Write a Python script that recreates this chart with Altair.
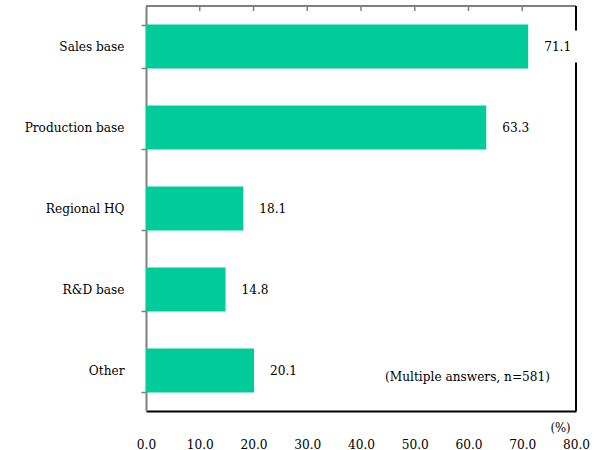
import altair as alt
import pandas as pd

# Survey shares (%) by function of the overseas base
categories = ["Sales base", "Production base", "Regional HQ", "R&D base", "Other"]
shares = [71.1, 63.3, 18.1, 14.8, 20.1]
x_ticks = [0, 10, 20, 30, 40, 50, 60, 70, 80]
note = "(Multiple answers, n=581)"
unit = "(%)"

df = pd.DataFrame({"category": categories, "share": shares})
inner_ticks = pd.DataFrame({"t": x_ticks[1:-1]})

FONT = "'DejaVu Serif Condensed', 'DejaVu Serif', serif"
FS = 13.5
W, H = 430, 405
GREEN = "#00CC99"
GRAY = "#808080"

xscale = alt.Scale(domain=[0, 80])
yscale = alt.Scale(paddingInner=0.457, paddingOuter=0.2285)

base = alt.Chart(df)

bars = base.mark_bar(color=GREEN).encode(
    x=alt.X(
        "share:Q",
        scale=xscale,
        title=unit,
        axis=alt.Axis(
            values=x_ticks, format=".1f", domainColor="black", domainWidth=2,
            ticks=False, grid=False, labelPadding=26, labelFont=FONT,
            labelFontSize=FS, labelColor="black", labelFlush=False,
            titleFont=FONT, titleFontSize=13, titleFontWeight="normal",
            titleColor="black", titleX=414, titleY=16,
            titleBaseline="middle", titleAlign="center",
        ),
    ),
    y=alt.Y(
        "category:N",
        sort=categories,
        scale=yscale,
        axis=alt.Axis(
            title=None, domainColor=GRAY, domainWidth=2, tickColor=GRAY,
            tickWidth=1.5, tickSize=5, tickBand="extent", labelPadding=17,
            labelFont=FONT, labelFontSize=FS, labelColor="black", grid=False,
        ),
    ),
)

# Frame: gray top edge with inward ticks, black right edge
top_edge = base.mark_rule(color=GRAY, strokeWidth=2).encode(
    x=alt.datum(0), x2=alt.datum(80), y=alt.value(0)
)
top_ticks = alt.Chart(inner_ticks).mark_rule(color=GRAY, strokeWidth=1.5).encode(
    x=alt.X("t:Q", title=unit), y=alt.value(0), y2=alt.value(5)
)
right_edge = base.mark_rule(color="black", strokeWidth=2).encode(
    x=alt.datum(80), y=alt.value(0), y2=alt.value(H)
)

# White boxes behind the value labels
label_boxes = base.transform_calculate(
    bx0="datum.share + 1.5", bx1="datum.share + 9.5"
).mark_bar(color="white", height=32).encode(
    x=alt.X("bx0:Q", title=unit), x2="bx1:Q",
    y=alt.Y("category:N", sort=categories),
)

labels = base.mark_text(
    align="left", baseline="middle", dx=16, font=FONT, fontSize=FS, color="black"
).encode(
    x=alt.X("share:Q", title=unit),
    y=alt.Y("category:N", sort=categories),
    text=alt.Text("share:Q", format=".1f"),
)

note_text = alt.Chart(pd.DataFrame({"note": [note]})).mark_text(
    align="right", baseline="middle", font=FONT, fontSize=FS, color="black"
).encode(x=alt.value(404), y=alt.value(371), text="note:N")

chart = alt.layer(
    bars, top_edge, top_ticks, right_edge, label_boxes, labels, note_text
).properties(
    width=W,
    height=H,
    autosize=alt.AutoSizeParams(type="none"),
    padding={"left": 146, "top": 6, "right": 28, "bottom": 39},
).configure_view(strokeWidth=0)

chart.save("out.html", embed_options={"renderer": "svg", "actions": False})
